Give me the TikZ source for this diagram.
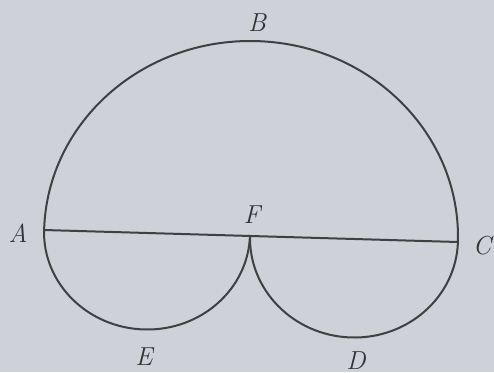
\documentclass[tikz,border=0pt]{standalone}
\begin{document}
\begin{tikzpicture}[x=0.5pt,y=0.5pt,
  curve/.style={draw=black!75,line width=1pt},
  lbl/.style={font=\fontsize{13}{15}\selectfont\itshape,text=black!80,inner sep=0pt}]
\definecolor{bg}{RGB}{206,209,216}
\fill[bg] (0,0) rectangle (494,-372);
\useasboundingbox (0,0) rectangle (494,-372);
\coordinate (A) at (44,-230);
\coordinate (F) at (250,-235);
\coordinate (C) at (458,-242);
\draw[curve] (A) -- (C);
\begin{scope}[shift={(251,-236)},rotate=-1.66]
  \draw[curve] (-207,0) arc[start angle=180,end angle=0,x radius=207,y radius=195];
\end{scope}
\begin{scope}[shift={(147,-232.5)},rotate=-1.39]
  \draw[curve] (-103,0) arc[start angle=180,end angle=360,x radius=103,y radius=97];
\end{scope}
\begin{scope}[shift={(354,-238.5)},rotate=-1.93]
  \draw[curve] (-104,0) arc[start angle=180,end angle=360,x radius=104,y radius=99];
\end{scope}
\node[lbl] (lA) at (18,-233) {A};
\node[lbl] (lB) at (257,-23) {B};
\node[lbl] (lC) at (482,-246) {C};
\node[lbl] (lD) at (356,-361) {D};
\node[lbl] (lE) at (144,-357) {E};
\node[lbl] (lF) at (252,-215) {F};
\end{tikzpicture}
\end{document}
